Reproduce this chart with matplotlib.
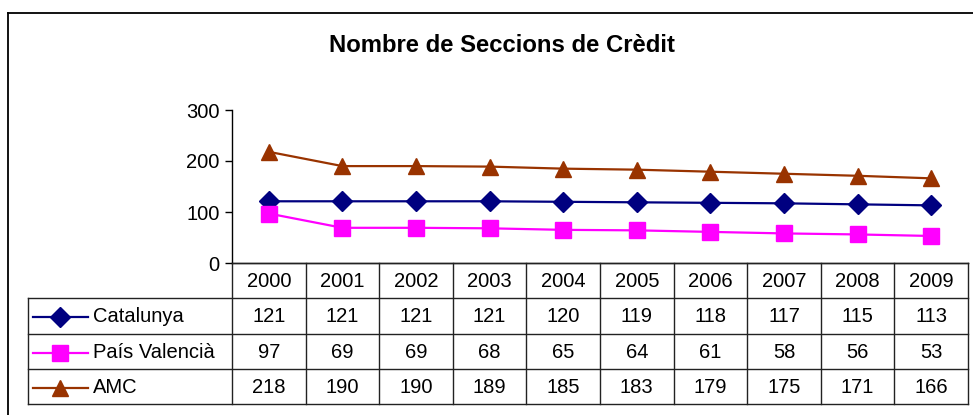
import matplotlib
matplotlib.use("Agg")
import matplotlib.pyplot as plt
from matplotlib.lines import Line2D

plt.rcParams['font.family'] = ['Liberation Sans', 'DejaVu Sans']

years = ["2000", "2001", "2002", "2003", "2004", "2005", "2006", "2007", "2008", "2009"]
catalunya = [121, 121, 121, 121, 120, 119, 118, 117, 115, 113]
pais_valencia = [97, 69, 69, 68, 65, 64, 61, 58, 56, 53]
amc = [218, 190, 190, 189, 185, 183, 179, 175, 171, 166]

series = [
    ("Catalunya", catalunya, "#000080", "D", 10),
    ("País Valencià", pais_valencia, "#FF00FF", "s", 11),
    ("AMC", amc, "#993300", "^", 12),
]

W, H = 973, 415
fig = plt.figure(figsize=(W / 100, H / 100), dpi=100)


def box(x0, y0, x1, y1):
    # pixel box (top-left origin) -> figure fraction rect
    return [x0 / W, 1 - y1 / H, (x1 - x0) / W, (y1 - y0) / H]


# outer chart frame
frame_kw = dict(color="black", lw=1.3, transform=fig.transFigure)
fig.add_artist(Line2D([8 / W, 8 / W], [0, 1 - 13 / H], **frame_kw))
fig.add_artist(Line2D([8 / W, 1], [1 - 13 / H, 1 - 13 / H], **frame_kw))

fig.text(502 / W, 1 - 45 / H, "Nombre de Seccions de Crèdit",
         ha="center", va="center", fontsize=17.2, fontweight="bold")

# plot area
x_left, x_right = 232, 968
ax = fig.add_axes(box(x_left, 110, x_right, 263))
xs = list(range(len(years)))
for name, vals, col, mk, ms in series:
    ax.plot(xs, vals, color=col, lw=1.6, marker=mk, markersize=ms,
            markerfacecolor=col, markeredgecolor=col, clip_on=False)
ax.set_xlim(-0.5, len(years) - 0.5)
ax.set_ylim(0, 300)
ax.set_yticks([0, 100, 200, 300])
ax.set_xticks([])
for s in ("top", "right"):
    ax.spines[s].set_visible(False)
for s in ("left", "bottom"):
    ax.spines[s].set_color("black")
    ax.spines[s].set_linewidth(1.0)
ax.tick_params(axis="y", direction="out", length=5, width=1.0, labelsize=14.5, pad=4)
ax.patch.set_alpha(0)

# data table below the plot area
colw = (x_right - x_left) / len(years)
leg_left = 28
leg_w = (x_left - leg_left) / colw
tab = fig.add_axes(box(leg_left, 263, x_right, 404))
tab.set_xlim(-0.5 - leg_w, len(years) - 0.5)
tab.set_ylim(141, 0)
tab.axis("off")
rows = [0, 35, 71, 106, 141]
lk = dict(color="#222222", lw=1.0, clip_on=False)
# horizontal rules
tab.plot([-0.5, len(years) - 0.5], [0, 0], **lk)
for r in rows[1:]:
    tab.plot([-0.5 - leg_w, len(years) - 0.5], [r, r], **lk)
# vertical rules
for i in range(len(years) + 1):
    tab.plot([i - 0.5, i - 0.5], [0, 141], **lk)
tab.plot([-0.5 - leg_w, -0.5 - leg_w], [35, 141], **lk)

for i, y in enumerate(years):
    tab.text(i, 18.5, y, ha="center", va="center", fontsize=14.5)

px = 1 / colw
for k, (name, vals, col, mk, ms) in enumerate(series):
    yc = (rows[k + 1] + rows[k + 2]) / 2 + 1
    x0 = -0.5 - leg_w
    tab.plot([x0 + 5 * px, x0 + 60 * px], [yc, yc], color=col, lw=1.6, clip_on=False)
    tab.plot([x0 + 32 * px], [yc], marker=mk, markersize=ms, color=col,
             markeredgecolor=col, clip_on=False)
    tab.text(x0 + 65 * px, yc, name, ha="left", va="center", fontsize=14.5)
    for i, v in enumerate(vals):
        tab.text(i, yc, str(v), ha="center", va="center", fontsize=14.5)

fig.savefig("out.png", dpi=100)
